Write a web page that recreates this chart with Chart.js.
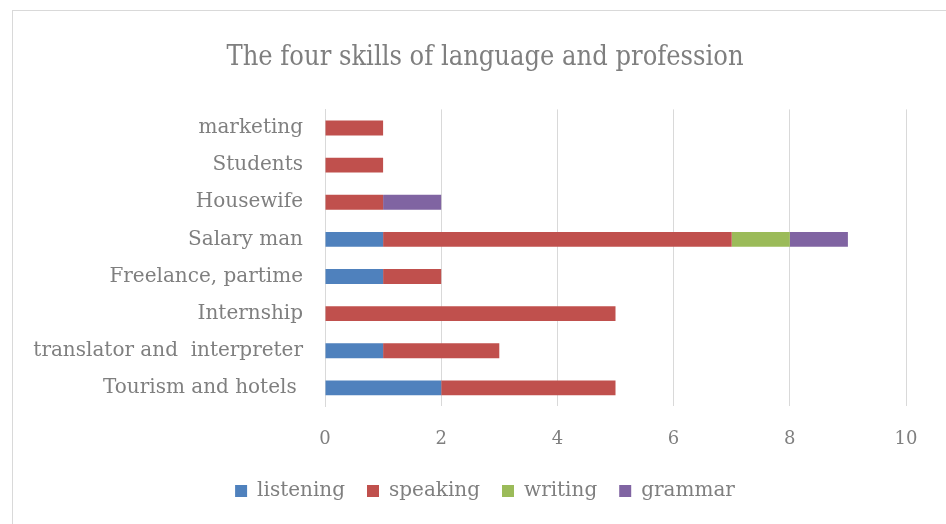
<!DOCTYPE html>
<html>
<head>
<meta charset="utf-8">
<script src="https://cdn.jsdelivr.net/npm/chart.js@4.4.1/dist/chart.umd.min.js"></script>
<style>
  html, body { margin: 0; padding: 0; background: #fff; overflow: hidden; }
  #frame {
    position: absolute; left: 12px; top: 10px;
    width: 944px; height: 520px;
    border: 1px solid #d9d9d9; background: #fff;
  }
  #chart { display: block; }
</style>
</head>
<body>
<div id="frame"><canvas id="chart" width="944" height="520"></canvas></div>
<script>
/* global Chart */

var professions = ['marketing', 'Students', 'Housewife', 'Salary man', 'Freelance, partime',
    'Internship', 'translator and  interpreter', 'Tourism and hotels '];

var listening = [0, 0, 0, 1, 1, 0, 1, 2];
var speaking  = [1, 1, 1, 6, 1, 5, 2, 3];
var writing   = [0, 0, 0, 1, 0, 0, 0, 0];
var grammar   = [0, 0, 1, 1, 0, 0, 0, 0];

var xTicks = [0, 2, 4, 6, 8, 10];

(function () {

    var grey = '#7f7f7f';
    var serif = '"DejaVu Serif", serif';

    var makeSet = function (label, values, color) {
        return {
            label: label,
            data: values,
            backgroundColor: color,
            borderWidth: 0,
            barPercentage: 0.8,
            categoryPercentage: 0.5
        };
    };

    var config = {
        type: 'bar',
        data: {
            labels: professions,
            datasets: [
                makeSet('listening', listening, '#4f81bd'),
                makeSet('speaking', speaking, '#c0504d'),
                makeSet('writing', writing, '#9bbb59'),
                makeSet('grammar', grammar, '#8064a2')
            ]
        },
        options: {
            indexAxis: 'y',
            responsive: false,
            animation: false,
            // symmetric side padding keeps title and legend centred on the frame
            layout: { padding: { top: 31, left: 51, right: 51, bottom: 20 } },
            scales: {
                x: {
                    stacked: true,
                    min: 0,
                    max: 10,
                    afterBuildTicks: function (axis) {
                        axis.ticks = xTicks.map(function (v) { return { value: v }; });
                    },
                    // the wide legend padding eats height, give it back here
                    afterFit: function (axis) { axis.height = axis.height - 13; },
                    grid: { color: '#d9d9d9', lineWidth: 1, drawTicks: false },
                    border: { display: false },
                    ticks: { color: grey, font: { family: serif, size: 18 }, padding: 22 }
                },
                y: {
                    stacked: true,
                    afterFit: function (axis) {
                        axis.width = 261;
                        // long labels run into the left padding, don't clip them
                        axis._computeLabelArea = function () { return undefined; };
                    },
                    grid: { display: false, drawTicks: false },
                    border: { display: true, color: '#d9d9d9' },
                    ticks: { color: grey, font: { family: serif, size: 20 }, padding: 22 }
                }
            },
            plugins: {
                title: {
                    display: true,
                    text: 'The four skills of language and profession',
                    color: grey,
                    font: { family: '"DejaVu Serif Condensed", "DejaVu Serif", serif', size: 27, weight: 'normal' },
                    padding: { top: 0, bottom: 35 }
                },
                legend: {
                    position: 'bottom',
                    labels: {
                        color: grey,
                        font: { family: serif, size: 20 },
                        boxWidth: 12,
                        boxHeight: 12,
                        padding: 22
                    }
                },
                tooltip: { enabled: false }
            }
        }
    };

    new Chart(document.getElementById('chart').getContext('2d'), config);

})();
</script>
</body>
</html>
